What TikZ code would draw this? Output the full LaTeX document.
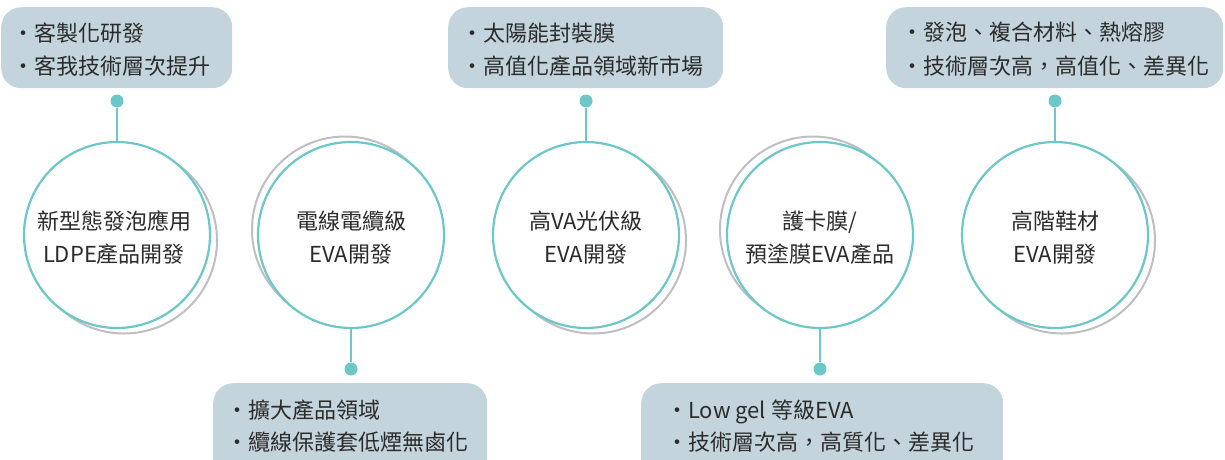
\documentclass[tikz,border=0pt]{standalone}
\usepackage{fontspec}
\newfontfamily\cjk{Noto Sans CJK TC}
\definecolor{teal1}{HTML}{6CC7C8}
\definecolor{boxfill}{HTML}{C4D4DD}
\definecolor{ring}{HTML}{BEBEC3}
\definecolor{ink}{HTML}{2B2B2B}
\begin{document}
\begin{tikzpicture}[x=1pt,y=-1pt,
  main/.style={circle, draw=teal1, line width=2.2pt, fill=white, minimum size=186pt, inner sep=0pt},
  shadow ring/.style={circle, draw=ring, line width=2pt, minimum size=186pt, inner sep=0pt},
  box/.style={rounded corners=20pt, fill=boxfill, draw=none, inner sep=0pt, anchor=north west},
  dot/.style={circle, fill=teal1, minimum size=13pt, inner sep=0pt},
  link/.style={draw=teal1, line width=2pt},
  txt/.style={font=\cjk\fontsize{22}{26}\selectfont, text=ink, inner sep=0pt, anchor=base west},
  ctxt/.style={font=\cjk\fontsize{22}{26}\selectfont, text=ink, inner sep=0pt, anchor=base},
]
\useasboundingbox (0,0) rectangle (1225,459);
\clip (0,0) rectangle (1225,459);

% shadow rings
\node[shadow ring] (s1) at (124,240.5) {};
\node[shadow ring] (s2) at (345,229.5) {};
\node[shadow ring] (s3) at (593,240.5) {};
\node[shadow ring] (s4) at (813,229.5) {};
\node[shadow ring] (s5) at (1062,240.5) {};

% main circles
\node[main] (c1) at (117,235) {};
\node[main] (c2) at (351,235) {};
\node[main] (c3) at (586,235) {};
\node[main] (c4) at (820,235) {};
\node[main] (c5) at (1055,235) {};

% circle labels
\node[ctxt] (c1a) at (114,229.5) {新型態發泡應用};
\node[ctxt] (c1b) at (114,262.5) {LDPE產品開發};
\node[ctxt] (c2a) at (351,229.5) {電線電纜級};
\node[ctxt] (c2b) at (351,262.5) {EVA開發};
\node[ctxt] (c3a) at (586,229.5) {高VA光伏級};
\node[ctxt] (c3b) at (586,262.5) {EVA開發};
\node[ctxt] (c4a) at (820,229.5) {護卡膜/};
\node[ctxt] (c4b) at (820,262.5) {預塗膜EVA產品};
\node[ctxt] (c5a) at (1055,229.5) {高階鞋材};
\node[ctxt] (c5b) at (1055,262.5) {EVA開發};

% callout boxes
\node[box, minimum width=231pt, minimum height=81pt] (b1) at (1,7) {};
\node[box, minimum width=275pt, minimum height=81pt] (b2) at (448,7) {};
\node[box, minimum width=337pt, minimum height=81pt] (b3) at (886,7) {};
\node[box, minimum width=274pt, minimum height=100pt] (b4) at (213,383) {};
\node[box, minimum width=362pt, minimum height=100pt] (b5) at (641,383) {};

% dots
\node[dot] (d1) at (117,101) {};
\node[dot] (d2) at (351,369) {};
\node[dot] (d3) at (586,101) {};
\node[dot] (d4) at (820,369) {};
\node[dot] (d5) at (1055,101) {};

% links
\draw[link] (d1) -- (c1);
\draw[link] (c2) -- (d2);
\draw[link] (d3) -- (c3);
\draw[link] (c4) -- (d4);
\draw[link] (d5) -- (c5);

% box texts
\node[txt] (t1a) at (12,41.5) {・客製化研發};
\node[txt] (t1b) at (12,74) {・客我技術層次提升};
\node[txt] (t2a) at (461,41.5) {・太陽能封裝膜};
\node[txt] (t2b) at (461,74) {・高值化產品領域新市場};
\node[txt] (t3a) at (901,40) {・發泡、複合材料、熱熔膠};
\node[txt] (t3b) at (901,74) {・技術層次高，高值化、差異化};
\node[txt] (t4a) at (226,418.4) {・擴大產品領域};
\node[txt] (t4b) at (226,450.4) {・纜線保護套低煙無鹵化};
\node[txt] (t5a) at (666,418.4) {・Low gel 等級EVA};
\node[txt] (t5b) at (666,450.4) {・技術層次高，高質化、差異化};
\end{tikzpicture}
\end{document}
